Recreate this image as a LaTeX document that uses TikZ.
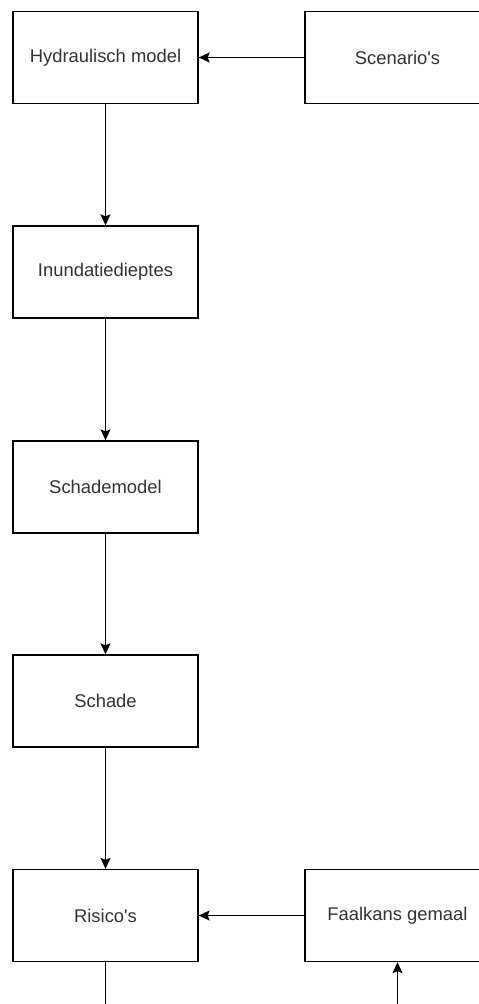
\documentclass[tikz,border=0pt]{standalone}
\usepackage{fontspec}
\setmainfont{Liberation Sans}
\usetikzlibrary{arrows.meta}
\definecolor{tekst}{HTML}{333333}
\begin{document}
\begin{tikzpicture}[x=1pt, y=-1pt,
  blok/.style={draw, line width=1.3pt, minimum width=185pt, minimum height=92pt, inner sep=0pt,
    text=tekst, font=\fontsize{18.4}{22}\selectfont},
  pijl/.style={line width=1.3pt, -{Stealth[length=11pt, width=10pt, inset=2pt]}}]
\useasboundingbox[fill=white] (0,0) rectangle (479,1004);

\node[blok] (hydr) at (105.5,57.5) {Hydraulisch model};
\node[blok] (scen) at (397.5,57.5) {Scenario\textquotesingle s};
\node[blok] (inund) at (105.5,272) {Inundatiedieptes};
\node[blok] (schmod) at (105.5,487) {Schademodel};
\node[blok] (schade) at (105.5,701) {Schade};
\node[blok] (risico) at (105.5,915.5) {Risico\textquotesingle s};
\node[blok] (faal) at (397.5,915.5) {Faalkans gemaal};

\coordinate (uit) at (105.5,1010);
\coordinate (in) at (397.5,1010);

\draw[pijl] (scen) -- (hydr);
\draw[pijl] (hydr) -- (inund);
\draw[pijl] (inund) -- (schmod);
\draw[pijl] (schmod) -- (schade);
\draw[pijl] (schade) -- (risico);
\draw[pijl] (faal) -- (risico);

\draw[line width=1.3pt] (risico) -- (uit);
\draw[pijl] (in) -- (faal);
\end{tikzpicture}
\end{document}
